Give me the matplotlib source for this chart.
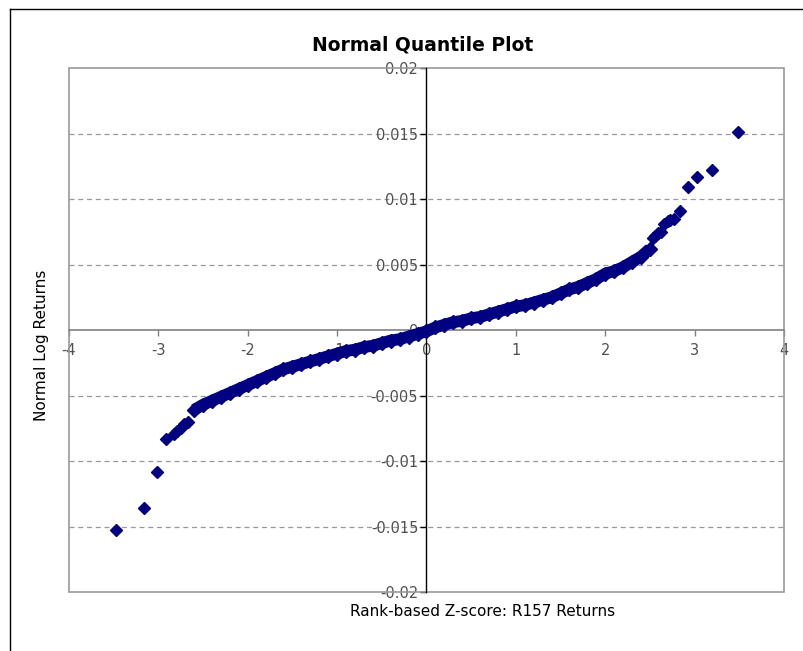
import matplotlib
matplotlib.use('Agg')
import matplotlib.pyplot as plt
from matplotlib.patches import Rectangle
from matplotlib.lines import Line2D

# Rank-based z-scores and log returns.
# Sparse lower tail.
lower_z = [-3.47, -3.16, -3.01, -2.91, -2.83, -2.79, -2.75, -2.71, -2.67]
lower_ret = [-0.0153, -0.0136, -0.0108, -0.0083, -0.0079, -0.0077, -0.0075, -0.0072, -0.0070]

# Dense middle band.
band_z = [-2.6, -2.5, -2.4, -2.3, -2.2, -2.1, -2.0, -1.9, -1.8, -1.7,
          -1.6, -1.5, -1.4, -1.3, -1.2, -1.1, -1.0, -0.9, -0.8, -0.7,
          -0.6, -0.5, -0.4, -0.3, -0.2, -0.1, 0.0, 0.1, 0.2, 0.3,
          0.4, 0.5, 0.6, 0.7, 0.8, 0.9, 1.0, 1.1, 1.2, 1.3,
          1.4, 1.5, 1.6, 1.7, 1.8, 1.9, 2.0, 2.1, 2.2, 2.3,
          2.4, 2.5]
band_ret = [-0.0061, -0.0057, -0.0054, -0.0051, -0.0048, -0.0045, -0.0042, -0.0039, -0.0036, -0.0033,
            -0.0030, -0.0028, -0.0026, -0.0024, -0.0022, -0.0020, -0.0018, -0.0016, -0.0015, -0.0013,
            -0.0012, -0.0010, -0.0008, -0.0007, -0.0005, -0.0003, -0.0001, 0.0002, 0.0004, 0.0006,
            0.0007, 0.0009, 0.0010, 0.0012, 0.0014, 0.0016, 0.0018, 0.0019, 0.0021, 0.0023,
            0.0025, 0.0028, 0.0031, 0.0033, 0.0036, 0.0039, 0.0043, 0.0045, 0.0048, 0.0052,
            0.0056, 0.0062]

# Sparse upper tail.
upper_z = [2.53, 2.56, 2.59, 2.62, 2.66, 2.70, 2.73, 2.77, 2.84, 2.93, 3.03, 3.19, 3.49]
upper_ret = [0.0070, 0.0072, 0.0074, 0.0075, 0.0081, 0.0083, 0.0084, 0.0085, 0.0091, 0.0109, 0.0117, 0.0122, 0.0151]

x_ticks = [-4, -3, -2, -1, 0, 1, 2, 3, 4]
y_ticks = [-0.02, -0.015, -0.01, -0.005, 0, 0.005, 0.01, 0.015, 0.02]
y_tick_labels = ['-0.02', '-0.015', '-0.01', '-0.005', '0', '0.005', '0.01', '0.015', '0.02']

NAVY = '#000080'
TEXT = '#505050'

fig = plt.figure(figsize=(8.04, 6.51), dpi=100)
ax = fig.add_axes([0.0858, 0.0906, 0.8893, 0.8049])

# grid lines
for y in y_ticks[1:-1]:
  if y != 0:
    ax.axhline(y, color='#999999', linewidth=0.9, linestyle=(0, (4, 3)), zorder=1)

# dense band: thick line under the markers so the band reads as solid
ax.plot(band_z, band_ret, color=NAVY, linewidth=8.5, solid_capstyle='butt', zorder=3)
ax.plot(band_z, band_ret, linestyle='none', marker='D', markersize=7,
        color=NAVY, zorder=3)
ax.plot(lower_z, lower_ret, linestyle='none', marker='D', markersize=6,
        color=NAVY, zorder=3)
ax.plot(upper_z, upper_ret, linestyle='none', marker='D', markersize=6,
        color=NAVY, zorder=3)

ax.set_xlim(-4, 4)
ax.set_ylim(-0.02, 0.02)

# axes cross at zero, plot area drawn as a grey box
ax.spines['left'].set_position('zero')
ax.spines['bottom'].set_position('zero')
ax.spines['top'].set_visible(False)
ax.spines['right'].set_visible(False)
ax.spines['left'].set_color('black')
ax.spines['bottom'].set_color('#808080')
ax.spines['left'].set_linewidth(1.0)
ax.spines['bottom'].set_linewidth(1.2)
ax.spines['left'].set_zorder(2)
ax.spines['bottom'].set_zorder(2)
ax.add_patch(Rectangle((0, 0), 1, 1, transform=ax.transAxes, fill=False,
                       edgecolor='#999999', linewidth=1.2, zorder=2, clip_on=False))

ax.set_xticks(x_ticks)
ax.set_xticklabels([str(t) for t in x_ticks])
ax.set_yticks(y_ticks)
ax.set_yticklabels(y_tick_labels)
ax.tick_params(axis='x', direction='out', length=4, width=1, color='#808080',
               labelsize=10.5, labelcolor=TEXT, pad=5)
ax.tick_params(axis='y', direction='out', length=4, width=1, color='black',
               labelsize=10.5, labelcolor=TEXT, pad=2)

fig.text(0.526, 0.931, 'Normal Quantile Plot', ha='center', va='center',
         fontsize=13.5, fontweight='bold', color='black')
fig.text(0.600, 0.06, 'Rank-based Z-score: R157 Returns', ha='center', va='center',
         fontsize=11, color='black')
fig.text(0.052, 0.47, 'Normal Log Returns', ha='center', va='center',
         rotation=90, fontsize=11, color='black')

# outer chart border, only top and left edges are inside the picture
fig.lines.append(Line2D([10 / 804, 1.0], [1 - 9 / 651, 1 - 9 / 651],
                        transform=fig.transFigure, color='black', linewidth=1.0))
fig.lines.append(Line2D([10 / 804, 10 / 804], [0.0, 1 - 9 / 651],
                        transform=fig.transFigure, color='black', linewidth=1.0))

fig.savefig('out.png', dpi=100)
